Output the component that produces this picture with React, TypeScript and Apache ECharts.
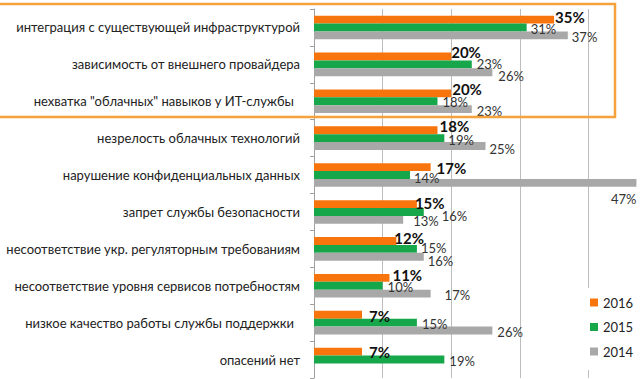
import React, { useEffect, useRef } from "react";
import * as echarts from "echarts";

const categories = [
  "интеграция с существующей инфраструктурой",
  "зависимость от внешнего провайдера",
  "нехватка \"облачных\" навыков у ИТ-службы",
  "незрелость облачных технологий",
  "нарушение конфиденциальных данных",
  "запрет службы безопасности",
  "несоответствие укр. регуляторным требованиям",
  "несоответствие уровня сервисов потребностям",
  "низкое качество работы службы поддержки",
  "опасений нет",
];
const years = ["2016", "2015", "2014"];
const values2016 = [35, 20, 20, 18, 17, 15, 12, 11, 7, 7];
const values2015 = [31, 23, 18, 19, 14, 16, 15, 10, 15, 19];
const values2014: (number | null)[] = [37, 26, 23, 25, 47, 13, 16, 17, 26, null];
const xTicks = [0, 10, 20, 30, 40, 50];

const FONT = "Lato, 'Liberation Sans', sans-serif";
const COLORS = ["#F8740C", "#16A74B", "#A8A8A8"];

// label nudges (styling only), per category
const nudge2016 = [[1, -3], [0, -4.5], [1, -4.5], [2, -4.5], [6, 1], [-2, -1], [-2, -3], [3, -3], [7, 1], [7, 0]];
const nudge2015 = [[4, 1.5], [5, 0], [5, 1], [4, 2], [4, 2.5], [18, 4], [4, -1], [5, 1], [5, 1], [5, 1]];
const nudge2014 = [[4, 1.5], [6, 4], [5, 1.5], [4, 2.5], [0, 6], [10, 1.5], [4, 4], [14, 1], [5, 1], [0, 0]];

export default function App() {
  const ref = useRef<HTMLDivElement>(null);
  useEffect(() => {
    if (!ref.current) return;
    const chart = echarts.init(ref.current, null, { renderer: "svg" });

    const s2016 = values2016.map((v, i) => ({ value: v, label: { offset: nudge2016[i] } }));
    const s2015 = values2015.map((v, i) => ({ value: v, label: { offset: nudge2015[i] } }));
    const s2014 = values2014.map((v, i) => {
      if (v === null) return { value: null };
      if (i === 4) {
        return {
          value: v,
          label: {
            position: ["100%", "100%"],
            align: "right",
            verticalAlign: "top",
            offset: nudge2014[i],
          },
        };
      }
      return { value: v, label: { offset: nudge2014[i] } };
    });

    const yData = categories.map((c, i) =>
      i === 2 || i === 8 ? { value: c, textStyle: { padding: [0, 6, 0, 0] } } : c
    );

    const normalLabel = {
      show: true,
      position: "right",
      distance: 0,
      formatter: "{c}%",
      fontFamily: FONT,
      fontSize: 13,
      color: "#333",
    };

    chart.setOption({
      animation: false,
      textStyle: { fontFamily: FONT },
      grid: {
        left: 314,
        top: 9,
        width: 343,
        height: 369,
        containLabel: false,
        outerBoundsMode: "none",
      },
      xAxis: {
        type: "value",
        min: xTicks[0],
        max: xTicks[xTicks.length - 1],
        interval: 10,
        axisLabel: { show: false },
        axisLine: { show: false },
        axisTick: { show: false },
        splitLine: { show: true, lineStyle: { color: "#BDBDBD", width: 1 } },
      },
      yAxis: {
        type: "category",
        inverse: true,
        data: yData,
        axisLine: { show: true, lineStyle: { color: "#A0A0A0", width: 1 } },
        axisTick: { show: true, length: 4, lineStyle: { color: "#A0A0A0" } },
        axisLabel: {
          margin: 14,
          fontFamily: FONT,
          fontSize: 13,
          color: "#222",
        },
      },
      legend: {
        data: years,
        orient: "vertical",
        left: 585,
        top: 288,
        itemWidth: 8,
        itemHeight: 8,
        itemGap: 11.5,
        icon: "rect",
        backgroundColor: "#fff",
        padding: [8, 10, 12, 5],
        textStyle: { fontFamily: FONT, fontSize: 13, color: "#222" },
      },
      series: [
        {
          name: years[0],
          type: "bar",
          data: s2016,
          barGap: "0%",
          barCategoryGap: "36%",
          itemStyle: { color: COLORS[0] },
          label: {
            ...normalLabel,
            fontWeight: "bold",
            fontSize: 15,
            color: "#111",
          },
        },
        {
          name: years[1],
          type: "bar",
          data: s2015,
          barGap: "0%",
          barCategoryGap: "36%",
          itemStyle: { color: COLORS[1] },
          label: { ...normalLabel },
        },
        {
          name: years[2],
          type: "bar",
          data: s2014,
          barGap: "0%",
          barCategoryGap: "36%",
          itemStyle: { color: COLORS[2] },
          label: { ...normalLabel },
        },
      ],
      graphic: [
        {
          type: "rect",
          shape: { x: -3, y: 4, width: 618, height: 113 },
          style: { fill: "none", stroke: "#F6A23C", lineWidth: 2.5 },
          silent: true,
          z: 100,
        },
      ],
    });
    return () => chart.dispose();
  }, []);
  return (
    <div
      ref={ref}
      style={{ position: "fixed", left: 0, top: 0, width: 640, height: 379, background: "#fff" }}
    />
  );
}
